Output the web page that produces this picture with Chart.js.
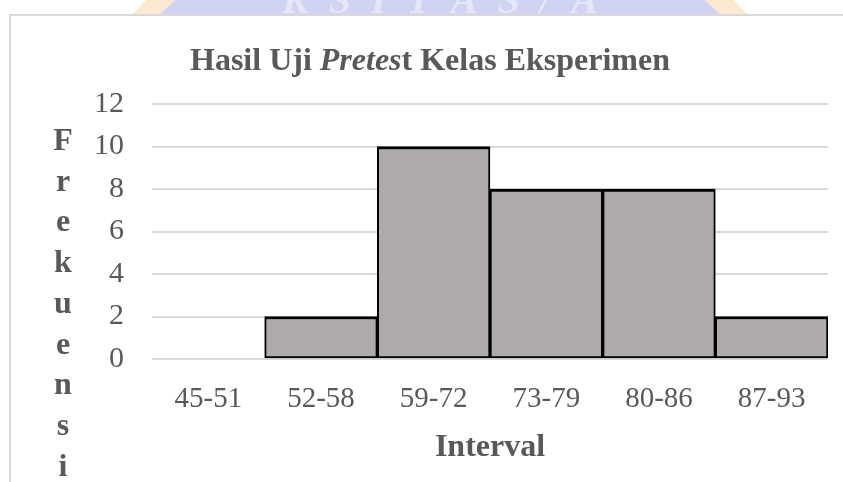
<!DOCTYPE html>
<html>
<head>
<meta charset="utf-8">
<script src="https://cdn.jsdelivr.net/npm/chart.js@4/dist/chart.umd.min.js"></script>
<style>
  html, body { margin: 0; padding: 0; background: #fff; }
  #wrap { position: relative; width: 843px; height: 482px; }
</style>
</head>
<body>
<div id="wrap"><canvas id="chart" width="843" height="482"></canvas></div>
<script>
const categories = ["45-51", "52-58", "59-72", "73-79", "80-86", "87-93"];
const frequencies = [0, 2, 10, 8, 8, 2];
const yMax = 12;
const yStep = 2;
const yTitleLetters = ["F", "r", "e", "k", "u", "e", "n", "s", "i"];
const xTitle = "Interval";
// title pieces: [text, italic]
const titleParts = [["Hasil Uji ", false], ["Pretes", true], ["t Kelas Eksperimen", false]];

const textColor = "#595959";
const serif = "'Liberation Serif', 'Times New Roman', serif";

// faint logo watermark at the top + outer chart border
const backdrop = {
  id: "backdrop",
  beforeDraw(chart) {
    const ctx = chart.ctx;
    ctx.save();
    ctx.beginPath();
    ctx.rect(0, 0, 843, 14);
    ctx.clip();
    ctx.beginPath();
    ctx.arc(440, 300, 420, 0, Math.PI * 2);
    ctx.fillStyle = "rgba(245, 220, 178, 0.6)";
    ctx.fill();
    ctx.beginPath();
    ctx.arc(440, 300, 400, 0, Math.PI * 2);
    ctx.fillStyle = "rgb(208, 212, 242)";
    ctx.fill();
    // pale bits of the logo lettering
    ctx.fillStyle = "rgba(255, 255, 255, 0.45)";
    ctx.font = "italic bold 40px " + serif;
    ctx.textAlign = "center";
    ctx.fillText("K  S  I  T  A  S  /  A", 440, 13);
    ctx.restore();

    ctx.save();
    ctx.strokeStyle = "#d9d9d9";
    ctx.lineWidth = 2;
    ctx.beginPath();
    ctx.moveTo(10, 482);
    ctx.lineTo(10, 15);
    ctx.lineTo(843, 15);
    ctx.stroke();
    ctx.fillStyle = "#fff";
    ctx.fillRect(11, 16, 832, 466);
    ctx.restore();
  }
};

// title with mixed italic, stacked y title, x title
const labels = {
  id: "labels",
  afterDraw(chart) {
    const ctx = chart.ctx;
    ctx.save();
    ctx.fillStyle = textColor;
    ctx.textBaseline = "alphabetic";

    const fontFor = it => (it ? "italic " : "") + "bold 32px " + serif;
    let total = 0;
    titleParts.forEach(([t, it]) => { ctx.font = fontFor(it); total += ctx.measureText(t).width; });
    let x = 430 - total / 2;
    ctx.textAlign = "left";
    titleParts.forEach(([t, it]) => {
      ctx.font = fontFor(it);
      ctx.fillText(t, x, 70);
      x += ctx.measureText(t).width;
    });

    ctx.font = "bold 32px " + serif;
    ctx.textAlign = "center";
    yTitleLetters.forEach((ch, i) => ctx.fillText(ch, 63, 150 + i * 40.7));

    const area = chart.chartArea;
    ctx.fillText(xTitle, (area.left + area.right) / 2, 456);
    ctx.restore();
  }
};

new Chart(document.getElementById("chart"), {
  type: "bar",
  data: {
    labels: categories,
    datasets: [{
      data: frequencies,
      backgroundColor: "#aeaaaa",
      borderColor: "#000",
      borderWidth: { top: 3, left: 2, right: 2, bottom: 2 },
      borderSkipped: false,
      categoryPercentage: 1,
      barPercentage: 1
    }]
  },
  options: {
    responsive: false,
    animation: false,
    layout: { padding: { top: 104, right: 15, left: 0, bottom: 0 } },
    plugins: {
      legend: { display: false },
      tooltip: { enabled: false }
    },
    scales: {
      x: {
        afterFit: s => { s.height = 123; },
        grid: { display: false },
        border: { display: false },
        ticks: { color: textColor, font: { family: serif, size: 29 }, padding: 15, maxRotation: 0 }
      },
      y: {
        min: 0,
        max: yMax,
        afterFit: s => { s.width = 152; },
        grid: { color: "#d9d9d9", lineWidth: 2, drawTicks: false },
        border: { display: false },
        ticks: { stepSize: yStep, color: textColor, font: { family: serif, size: 30 }, padding: 28 }
      }
    }
  },
  plugins: [backdrop, labels]
});
</script>
</body>
</html>
